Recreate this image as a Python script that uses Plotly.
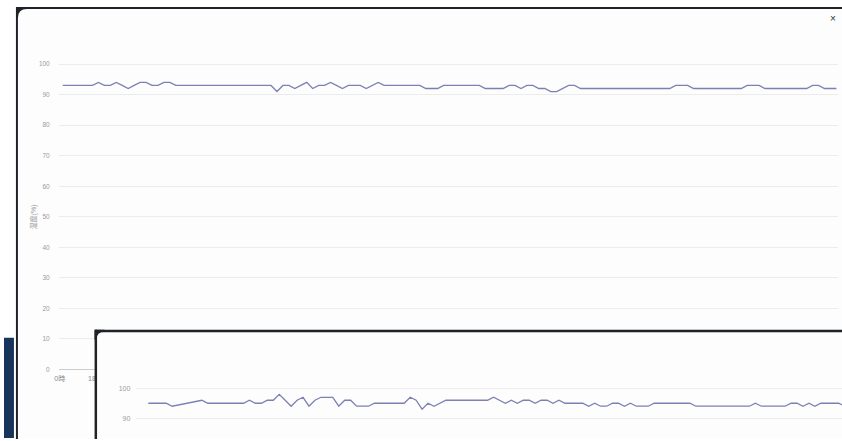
import plotly.graph_objects as go

W, H = 842, 441

# ---------------- data ----------------
main_values = [
    93, 93, 93, 93, 93, 93, 94, 93, 93, 94,
    93, 92, 93, 94, 94, 93, 93, 94, 94, 93,
    93, 93, 93, 93, 93, 93, 93, 93, 93, 93,
    93, 93, 93, 93, 93, 93, 91, 93, 93, 92,
    93, 94, 92, 93, 93, 94, 93, 92, 93, 93,
    93, 92, 93, 94, 93, 93, 93, 93, 93, 93,
    93, 92, 92, 92, 93, 93, 93, 93, 93, 93,
    93, 92, 92, 92, 92, 93, 93, 92, 93, 93,
    92, 92, 91, 91, 92, 93, 93, 92, 92, 92,
    92, 92, 92, 92, 92, 92, 92, 92, 92, 92,
    92, 92, 92, 93, 93, 93, 92, 92, 92, 92,
    92, 92, 92, 92, 92, 93, 93, 93, 92, 92,
    92, 92, 92, 92, 92, 92, 93, 93, 92, 92,
    92,
]

second_values = [
    95, 95, 95, 95, 94, 94.4, 94.8, 95.2, 95.6, 96,
    95, 95, 95, 95, 95, 95, 95, 96, 95, 95,
    96, 96, 98, 96, 94, 96, 97, 94, 96, 97,
    97, 97, 94, 96, 96, 94, 94, 94, 95, 95,
    95, 95, 95, 95, 97, 96, 93, 95, 94, 95,
    96, 96, 96, 96, 96, 96, 96, 96, 97, 96,
    95, 96, 95, 96, 96, 95, 96, 96, 95, 96,
    95, 95, 95, 95, 94, 95, 94, 94, 95, 95,
    94, 95, 94, 94, 94, 95, 95, 95, 95, 95,
    95, 95, 94, 94, 94, 94, 94, 94, 94, 94,
    94, 94, 95, 94, 94, 94, 94, 94, 95, 95,
    94, 95, 94, 95, 95, 95, 95, 94, 94,
]

x_tick_positions = [0, 6, 12, 18, 24, 30, 36, 42, 48, 54, 60,
                    66, 72, 78, 84, 90, 96, 102, 108, 114, 120, 126]
x_tick_labels = ["0時", "18時", "12時", "6時", "0時", "18時", "12時", "6時",
                 "0時", "18時", "12時", "6時", "0時", "18時", "12時", "6時",
                 "0時", "18時", "12時", "6時", "0時", "18時"]
y_ticks = [0, 10, 20, 30, 40, 50, 60, 70, 80, 90, 100]
y2_ticks = [80, 90, 100]
y_title = "湿度(%)"

main_x = list(range(len(main_values)))
second_x = list(range(len(second_values)))

# ---------------- layout helpers (pixel -> paper) ----------------
def fx(x):
    return x / W

def fy(y):
    return 1 - y / H

def pp(x, y):
    return f"{fx(x):.5f},{fy(y):.5f}"

LINE = "#7d80b4"
GRID = "#ececec"
LABEL = "#9a9a9a"
FONT = "Liberation Sans, Noto Sans CJK SC, sans-serif"
BORDER = "#1f2328"

# main chart geometry
m_left, m_right = 55, 838
m_first, m_step = 59, 5.98
m_zero_y, m_ppu = 372, 3.075
m_top_val = 103
# second chart geometry
s_left, s_first, s_step = 133, 145, 5.98
s_100_y, s_ppu = 391, 3.0
s_top_val = 102

fig = go.Figure()

fig.add_trace(go.Scatter(
    x=main_x, y=main_values, mode="lines",
    line=dict(color=LINE, width=1.3),
    xaxis="x", yaxis="y", showlegend=False, hoverinfo="skip",
))
# occluding panel (window on top)
fig.add_trace(go.Scatter(
    x=[], y=[], mode="lines", xaxis="x2", yaxis="y2",
    showlegend=False, hoverinfo="skip",
))
fig.add_trace(go.Scatter(
    x=second_x, y=second_values, mode="lines",
    line=dict(color=LINE, width=1.3),
    xaxis="x3", yaxis="y3", showlegend=False, hoverinfo="skip",
))

shapes = []
# navy block bottom-left
shapes.append(dict(type="rect", xref="paper", yref="paper",
                   x0=fx(0), x1=fx(10), y0=fy(441), y1=fy(340),
                   fillcolor="#17355a", line=dict(width=0), layer="below"))
# main window border + body
shapes.append(dict(type="rect", xref="paper", yref="paper",
                   x0=fx(12), x1=fx(843), y0=fy(442), y1=fy(7),
                   fillcolor=BORDER, line=dict(width=0), layer="below"))
shapes.append(dict(type="path", xref="paper", yref="paper",
                   path="M" + pp(14, 18) + " Q" + pp(14, 9) + " " + pp(23, 9) +
                        " L" + pp(843, 9) + " L" + pp(843, 442) + " L" + pp(14, 442) + " Z",
                   fillcolor="#fdfdfd", line=dict(width=0), layer="below"))
# second window border (above main chart)
shapes.append(dict(type="rect", xref="paper", yref="paper",
                   x0=fx(92), x1=fx(843), y0=fy(334.5), y1=fy(332),
                   fillcolor=BORDER, line=dict(width=0), layer="above"))
shapes.append(dict(type="rect", xref="paper", yref="paper",
                   x0=fx(91), x1=fx(93.5), y0=fy(442), y1=fy(332),
                   fillcolor=BORDER, line=dict(width=0), layer="above"))
shapes.append(dict(type="path", xref="paper", yref="paper",
                   path="M" + pp(91, 332) + " L" + pp(101, 332) + " L" + pp(101, 334) +
                        " Q" + pp(93, 334) + " " + pp(93, 342) + " L" + pp(91, 342) + " Z",
                   fillcolor=BORDER, line=dict(width=0), layer="above"))

annotations = [
    dict(text=y_title, xref="paper", yref="paper", x=fx(30), y=fy(218),
         showarrow=False, textangle=-90, font=dict(size=7, color=LABEL, family=FONT),
         xanchor="center", yanchor="middle"),
    dict(text="×", xref="paper", yref="paper", x=fx(833), y=fy(19),
         showarrow=False, font=dict(size=10, color="#333333", family=FONT),
         xanchor="center", yanchor="middle"),
]

fig.update_layout(
    width=W, height=H,
    margin=dict(l=0, r=0, t=0, b=0),
    paper_bgcolor="#ffffff",
    plot_bgcolor="#fdfdfd",
    showlegend=False,
    font=dict(family=FONT, color=LABEL),
    shapes=shapes,
    annotations=annotations,
    xaxis=dict(
        domain=[fx(m_left), fx(m_right)],
        range=[(m_left - m_first) / m_step, (m_right - m_first) / m_step],
        anchor="y", showgrid=False, zeroline=False,
        showline=True, linecolor="#cccccc", linewidth=1,
        tickmode="array", tickvals=x_tick_positions, ticktext=x_tick_labels,
        ticks="", tickfont=dict(size=7, color="#888888", family=FONT),
        ticklabelstandoff=2, ticklabelshift=-3, fixedrange=True,
    ),
    yaxis=dict(
        domain=[fy(m_zero_y), fy(m_zero_y - m_top_val * m_ppu)],
        range=[0, m_top_val], anchor="x",
        tickmode="array", tickvals=y_ticks,
        showgrid=True, gridcolor=GRID, gridwidth=1, zeroline=False,
        showline=False, ticks="",
        tickfont=dict(size=6.5, color=LABEL, family=FONT),
        ticklabelstandoff=8, fixedrange=True,
    ),
    xaxis2=dict(domain=[fx(92), 1.0], range=[0, 1], anchor="y2", visible=False,
                fixedrange=True),
    yaxis2=dict(domain=[0.0, fy(333)], range=[0, 1], anchor="x2", visible=False,
                fixedrange=True),
    xaxis3=dict(
        domain=[fx(s_left), 1.0],
        range=[(s_left - s_first) / s_step, (W - s_first) / s_step],
        anchor="y3", showgrid=False, zeroline=False, showline=False,
        showticklabels=False, ticks="", fixedrange=True,
    ),
    yaxis3=dict(
        domain=[0.0, fy(s_100_y - (s_top_val - 100) * s_ppu)],
        range=[100 - (H - s_100_y) / s_ppu, s_top_val], anchor="x3",
        tickmode="array", tickvals=y2_ticks,
        showgrid=True, gridcolor=GRID, gridwidth=1, zeroline=False,
        showline=False, ticks="",
        tickfont=dict(size=7, color=LABEL, family=FONT),
        ticklabelstandoff=5, fixedrange=True,
    ),
)

fig.write_html(
    "out.html",
    config={"displayModeBar": False},
    post_script="document.body.style.margin='0';document.body.style.overflow='hidden';",
)
